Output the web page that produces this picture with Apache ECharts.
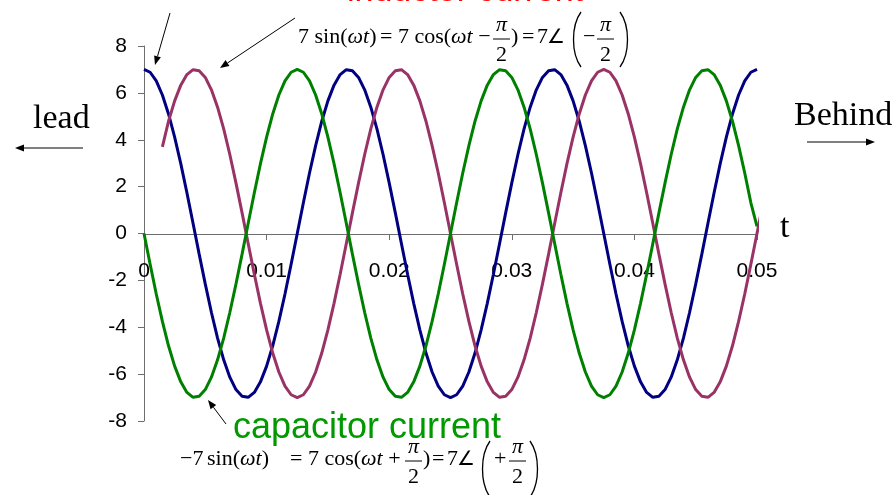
<!DOCTYPE html>
<html>
<head>
<meta charset="utf-8">
<title>capacitor current</title>
<script src="https://cdn.jsdelivr.net/npm/echarts@6/dist/echarts.min.js"></script>
<style>
  html, body { margin: 0; padding: 0; background: #fff; }
  #chart { width: 896px; height: 495px; }
</style>
</head>
<body>
<div id="chart"></div>
<script>
// time samples (s), every 0.5 ms
const tSec = [0, 0.0005, 0.001, 0.0015, 0.002, 0.0025, 0.003, 0.0035, 0.004, 0.0045,
  0.005, 0.0055, 0.006, 0.0065, 0.007, 0.0075, 0.008, 0.0085, 0.009, 0.0095,
  0.010, 0.0105, 0.011, 0.0115, 0.012, 0.0125, 0.013, 0.0135, 0.014, 0.0145,
  0.015, 0.0155, 0.016, 0.0165, 0.017, 0.0175, 0.018, 0.0185, 0.019, 0.0195,
  0.020, 0.0205, 0.021, 0.0215, 0.022, 0.0225, 0.023, 0.0235, 0.024, 0.0245,
  0.025, 0.0255, 0.026, 0.0265, 0.027, 0.0275, 0.028, 0.0285, 0.029, 0.0295,
  0.030, 0.0305, 0.031, 0.0315, 0.032, 0.0325, 0.033, 0.0335, 0.034, 0.0345,
  0.035, 0.0355, 0.036, 0.0365, 0.037, 0.0375, 0.038, 0.0385, 0.039, 0.0395,
  0.040, 0.0405, 0.041, 0.0415, 0.042, 0.0425, 0.043, 0.0435, 0.044, 0.0445,
  0.045, 0.0455, 0.046, 0.0465, 0.047, 0.0475, 0.048, 0.0485, 0.049, 0.0495, 0.050];
// blue: 7cos(wt)
const blueVals = [7.00, 6.88, 6.51, 5.91, 5.10, 4.11, 2.98, 1.74, 0.44, -0.88,
  -2.16, -3.37, -4.46, -5.39, -6.13, -6.66, -6.94, -6.99, -6.78, -6.33,
  -5.66, -4.79, -3.75, -2.58, -1.31, 0, 1.31, 2.58, 3.75, 4.79,
  5.66, 6.33, 6.78, 6.99, 6.94, 6.66, 6.13, 5.39, 4.46, 3.37,
  2.16, 0.88, -0.44, -1.74, -2.98, -4.11, -5.10, -5.91, -6.51, -6.88,
  -7.00, -6.88, -6.51, -5.91, -5.10, -4.11, -2.98, -1.74, -0.44, 0.88,
  2.16, 3.37, 4.46, 5.39, 6.13, 6.66, 6.94, 6.99, 6.78, 6.33,
  5.66, 4.79, 3.75, 2.58, 1.31, 0, -1.31, -2.58, -3.75, -4.79,
  -5.66, -6.33, -6.78, -6.99, -6.94, -6.66, -6.13, -5.39, -4.46, -3.37,
  -2.16, -0.88, 0.44, 1.74, 2.98, 4.11, 5.10, 5.91, 6.51, 6.88, 7.00];
// green: capacitor current, -7sin(wt)
const greenVals = [0, -1.31, -2.58, -3.75, -4.79, -5.66, -6.33, -6.78, -6.99, -6.94,
  -6.66, -6.13, -5.39, -4.46, -3.37, -2.16, -0.88, 0.44, 1.74, 2.98,
  4.11, 5.10, 5.91, 6.51, 6.88, 7.00, 6.88, 6.51, 5.91, 5.10,
  4.11, 2.98, 1.74, 0.44, -0.88, -2.16, -3.37, -4.46, -5.39, -6.13,
  -6.66, -6.94, -6.99, -6.78, -6.33, -5.66, -4.79, -3.75, -2.58, -1.31,
  0, 1.31, 2.58, 3.75, 4.79, 5.66, 6.33, 6.78, 6.99, 6.94,
  6.66, 6.13, 5.39, 4.46, 3.37, 2.16, 0.88, -0.44, -1.74, -2.98,
  -4.11, -5.10, -5.91, -6.51, -6.88, -7.00, -6.88, -6.51, -5.91, -5.10,
  -4.11, -2.98, -1.74, -0.44, 0.88, 2.16, 3.37, 4.46, 5.39, 6.13,
  6.66, 6.94, 6.99, 6.78, 6.33, 5.66, 4.79, 3.75, 2.58, 1.31, 0.3];
// magenta: 7sin(wt), starts a little after 0 and runs past 0.05
const magT = [0.0015, 0.002, 0.0025, 0.003, 0.0035, 0.004, 0.0045,
  0.005, 0.0055, 0.006, 0.0065, 0.007, 0.0075, 0.008, 0.0085, 0.009, 0.0095,
  0.010, 0.0105, 0.011, 0.0115, 0.012, 0.0125, 0.013, 0.0135, 0.014, 0.0145,
  0.015, 0.0155, 0.016, 0.0165, 0.017, 0.0175, 0.018, 0.0185, 0.019, 0.0195,
  0.020, 0.0205, 0.021, 0.0215, 0.022, 0.0225, 0.023, 0.0235, 0.024, 0.0245,
  0.025, 0.0255, 0.026, 0.0265, 0.027, 0.0275, 0.028, 0.0285, 0.029, 0.0295,
  0.030, 0.0305, 0.031, 0.0315, 0.032, 0.0325, 0.033, 0.0335, 0.034, 0.0345,
  0.035, 0.0355, 0.036, 0.0365, 0.037, 0.0375, 0.038, 0.0385, 0.039, 0.0395,
  0.040, 0.0405, 0.041, 0.0415, 0.042, 0.0425, 0.043, 0.0435, 0.044, 0.0445,
  0.045, 0.0455, 0.046, 0.0465, 0.047, 0.0475, 0.048, 0.0485, 0.049, 0.0495,
  0.050, 0.0505, 0.051, 0.0515];
const magVals = [3.70, 4.79, 5.66, 6.33, 6.78, 6.99, 6.94,
  6.66, 6.13, 5.39, 4.46, 3.37, 2.16, 0.88, -0.44, -1.74, -2.98,
  -4.11, -5.10, -5.91, -6.51, -6.88, -7.00, -6.88, -6.51, -5.91, -5.10,
  -4.11, -2.98, -1.74, -0.44, 0.88, 2.16, 3.37, 4.46, 5.39, 6.13,
  6.66, 6.94, 6.99, 6.78, 6.33, 5.66, 4.79, 3.75, 2.58, 1.31,
  0, -1.31, -2.58, -3.75, -4.79, -5.66, -6.33, -6.78, -6.99, -6.94,
  -6.66, -6.13, -5.39, -4.46, -3.37, -2.16, -0.88, 0.44, 1.74, 2.98,
  4.11, 5.10, 5.91, 6.51, 6.88, 7.00, 6.88, 6.51, 5.91, 5.10,
  4.11, 2.98, 1.74, 0.44, -0.88, -2.16, -3.37, -4.46, -5.39, -6.13,
  -6.66, -6.94, -6.99, -6.78, -6.33, -5.66, -4.79, -3.75, -2.58, -1.31,
  0, 1.31, 2.58, 3.40];
const yTicks = [-8, -6, -4, -2, 0, 2, 4, 6, 8];
const tTicks = [0, 0.01, 0.02, 0.03, 0.04, 0.05];

const SERIF = '"Liberation Serif", "Times New Roman", serif';
const SANS = '"Liberation Sans", Arial, sans-serif';

// text placed by its baseline
function txt(x, base, str, size, opt) {
  opt = opt || {};
  const fam = opt.family || SERIF;
  return {
    type: 'text', x: x, y: base - 0.34 * size, z: 100,
    style: {
      text: str,
      font: (opt.italic ? 'italic ' : '') + size + 'px ' + fam,
      fill: opt.color || '#000',
      textAlign: opt.align || 'left',
      textVerticalAlign: 'middle',
      rich: opt.rich
    }
  };
}
function arrow(x1, y1, x2, y2) {
  const a = Math.atan2(y2 - y1, x2 - x1), L = 9, W = 3.5;
  const bx = x2 - L * Math.cos(a), by = y2 - L * Math.sin(a);
  const px = -Math.sin(a) * W, py = Math.cos(a) * W;
  return [
    { type: 'line', z: 100, shape: { x1: x1, y1: y1, x2: bx, y2: by }, style: { stroke: '#000', lineWidth: 1 } },
    { type: 'polygon', z: 100, shape: { points: [[x2, y2], [bx + px, by + py], [bx - px, by - py]] }, style: { fill: '#000' } }
  ];
}
// pi over 2, centred at cx, main baseline at base
function frac(cx, base) {
  return [
    txt(cx, base - 12, 'π', 22, { italic: true, align: 'center' }),
    { type: 'line', z: 100, shape: { x1: cx - 8.5, y1: base - 6, x2: cx + 8.5, y2: base - 6 }, style: { stroke: '#000', lineWidth: 1 } },
    txt(cx, base + 18, '2', 22, { align: 'center' })
  ];
}
function paren(x, y1, y2, dir) {
  const h = y2 - y1;
  return {
    type: 'bezierCurve', z: 100,
    shape: { x1: x, y1: y1, cpx1: x - 10 * dir, cpy1: y1 + h * 0.25, cpx2: x - 10 * dir, cpy2: y1 + h * 0.75, x2: x, y2: y2 },
    style: { stroke: '#000', lineWidth: 1.3, fill: null }
  };
}
const richI = { i: { fontStyle: 'italic', fontFamily: 'Liberation Serif', fontSize: 22 } };

const graphics = [].concat(
  // cut-off title, only the feet of the letters show
  [txt(347, 3, 'inductor current', 34, { family: SANS, color: '#ff0000' })],
  // top formula
  [txt(298, 45, '7 sin({i|ωt})', 22, { rich: richI }),
   txt(380, 45, '= 7 cos({i|ωt} −', 22, { rich: richI })],
  frac(501.5, 45),
  [txt(511, 45, ')', 22), txt(522, 45, '=', 22), txt(537, 45, '7', 22), txt(547, 45, '∠', 20),
   paren(581, 12, 67, 1), txt(583, 45, '−', 22), paren(620, 12, 67, -1)],
  frac(605.5, 45),
  // bottom formula
  [txt(180, 467, '−7', 22), txt(207, 467, 'sin({i|ωt})', 22, { rich: richI }),
   txt(290, 467, '= 7 cos({i|ωt} +', 22, { rich: richI })],
  frac(413.5, 467),
  [txt(423, 467, ')', 22), txt(432, 467, '=', 22), txt(447, 467, '7', 22), txt(457, 467, '∠', 20),
   paren(490, 441, 497, 1), txt(494, 467, '+', 22), paren(530, 441, 497, -1)],
  frac(517.5, 467),
  // labels
  [txt(33, 131, 'lead', 34), txt(794, 128, 'Behind', 34), txt(780, 240, 't', 34),
   txt(233, 440, 'capacitor current', 36, { family: SANS, color: '#009900' })],
  arrow(83, 148, 15, 148),
  arrow(807, 142, 875, 142),
  arrow(170, 13, 155, 65),
  arrow(295, 18, 220, 68),
  arrow(226, 424, 208, 400)
);

const chart = echarts.init(document.getElementById('chart'));
const axisColor = '#6e6e6e';
chart.setOption({
  animation: false,
  textStyle: { fontFamily: SANS },
  grid: [
    { left: 144, right: 139, top: 46, bottom: 74, show: false },
    // upper half only: carries the time axis that sits on y = 0
    { left: 144, right: 139, top: 46, height: 188, show: false }
  ],
  xAxis: [
    { type: 'value', gridIndex: 0, min: 0, max: 0.05, show: false },
    {
      type: 'value', gridIndex: 1, position: 'bottom',
      min: tTicks[0], max: tTicks[tTicks.length - 1], interval: 0.01,
      axisLine: { onZero: false, lineStyle: { color: axisColor, width: 1 } },
      axisTick: { show: true, length: 6, lineStyle: { color: axisColor } },
      axisLabel: { color: '#000', fontSize: 21, margin: 27, fontFamily: SANS },
      splitLine: { show: false }
    }
  ],
  yAxis: [
    {
      type: 'value', gridIndex: 0, min: yTicks[0], max: yTicks[yTicks.length - 1], interval: 2,
      axisLine: { show: true, onZero: false, lineStyle: { color: axisColor, width: 1 } },
      axisTick: { show: true, length: 6, lineStyle: { color: axisColor } },
      axisLabel: { color: '#000', fontSize: 21, margin: 17, fontFamily: SANS },
      splitLine: { show: false }
    },
    { type: 'value', gridIndex: 1, min: 0, max: 8, show: false }
  ],
  series: [
    {
      name: '7cos', type: 'line', showSymbol: false,
      lineStyle: { color: '#000080', width: 3 },
      data: tSec.map((t, i) => [t, blueVals[i]])
    },
    {
      name: '7sin', type: 'line', showSymbol: false, clip: false,
      lineStyle: { color: '#993366', width: 3 },
      data: magT.map((t, i) => [t, magVals[i]])
    },
    {
      name: 'capacitor current', type: 'line', showSymbol: false,
      lineStyle: { color: '#008000', width: 3 },
      data: tSec.map((t, i) => [t, greenVals[i]])
    }
  ],
  graphic: graphics
});
</script>
</body>
</html>
